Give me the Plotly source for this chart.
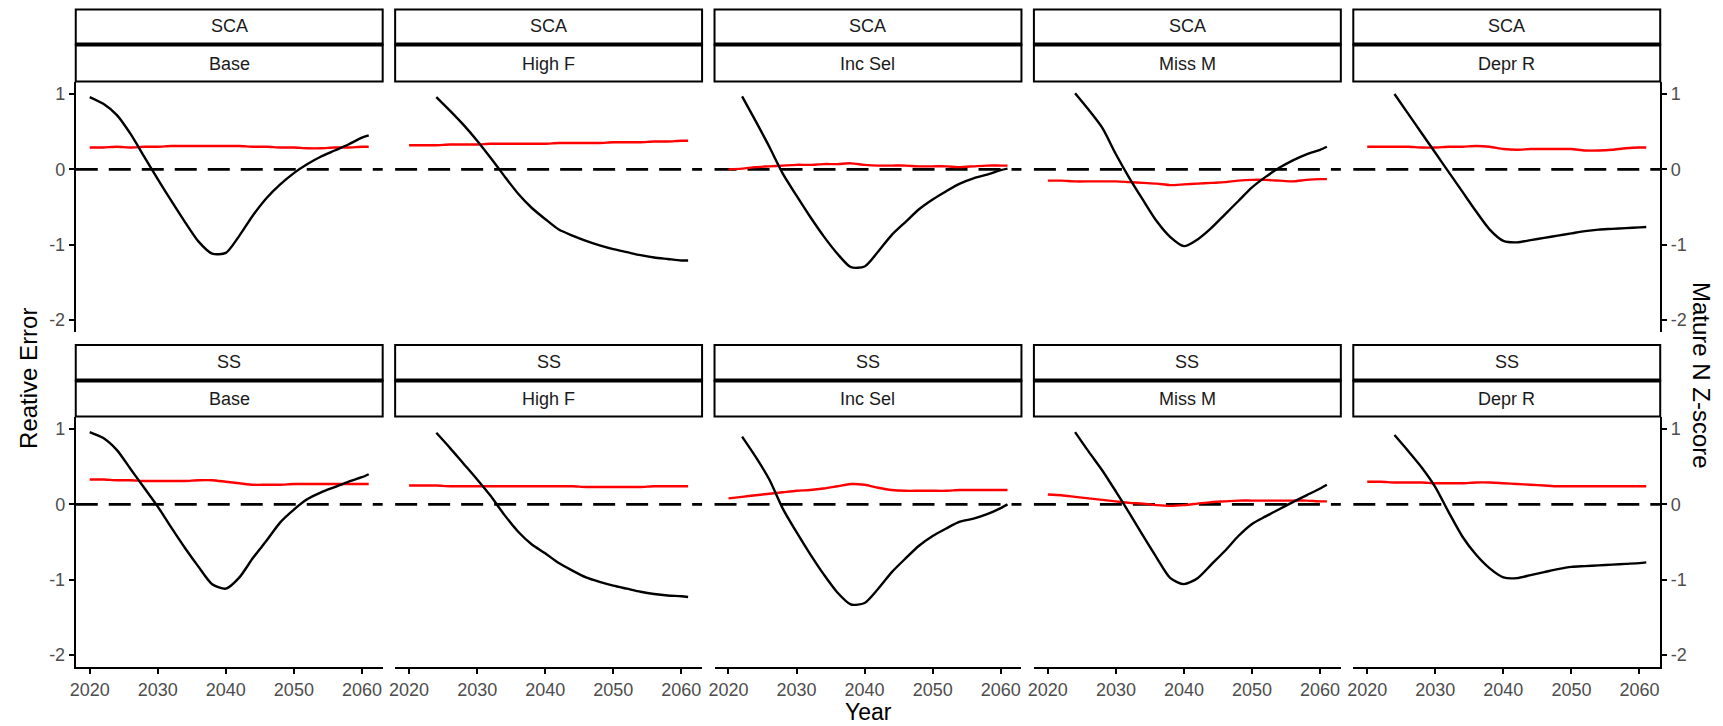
import plotly.graph_objects as go

# ---------------- data ----------------
YEARS = [2020, 2022, 2024, 2026, 2028, 2030, 2032, 2034, 2036, 2038, 2040,
         2042, 2044, 2046, 2048, 2050, 2052, 2054, 2056, 2058, 2060, 2061]

MODELS = ["SCA", "SS"]
SCENARIOS = ["Base", "High F", "Inc Sel", "Miss M", "Depr R"]
X_TICKS = [2020, 2030, 2040, 2050, 2060]
Y_TICKS = [1, 0, -1, -2]
Y_TICK_TEXT = ["1", "0", "-1", "-2"]

# Relative error (black) and Mature N Z-score (red), SCA model
sca_base_err = [0.96, 0.87, 0.72, 0.47, 0.17, -0.13, -0.42, -0.70, -0.96, -1.12, -1.11,
                -0.88, -0.61, -0.38, -0.20, -0.05, 0.07, 0.17, 0.25, 0.33, 0.42, 0.45]
sca_base_z = [0.29, 0.29, 0.30, 0.29, 0.30, 0.30, 0.31, 0.31, 0.31, 0.31, 0.31,
              0.31, 0.30, 0.30, 0.29, 0.29, 0.28, 0.28, 0.29, 0.29, 0.30, 0.30]
sca_highf_err = [None, None, 0.96, 0.78, 0.59, 0.38, 0.15, -0.09, -0.32, -0.51, -0.66,
                 -0.80, -0.88, -0.95, -1.01, -1.06, -1.10, -1.14, -1.17, -1.19, -1.21, -1.21]
sca_highf_z = [0.32, 0.32, 0.32, 0.33, 0.33, 0.33, 0.34, 0.34, 0.34, 0.34, 0.34,
               0.35, 0.35, 0.35, 0.35, 0.36, 0.36, 0.36, 0.37, 0.37, 0.38, 0.38]
sca_incsel_err = [None, 0.97, 0.64, 0.30, -0.06, -0.35, -0.63, -0.89, -1.12, -1.30, -1.29,
                  -1.09, -0.87, -0.70, -0.53, -0.40, -0.29, -0.19, -0.12, -0.07, -0.01, 0.01]
sca_incsel_z = [0.00, 0.01, 0.03, 0.04, 0.05, 0.06, 0.06, 0.07, 0.07, 0.08, 0.06,
                0.05, 0.05, 0.05, 0.04, 0.04, 0.04, 0.03, 0.04, 0.05, 0.05, 0.05]
sca_missm_err = [None, None, 1.01, 0.79, 0.55, 0.20, -0.12, -0.41, -0.69, -0.90, -1.02,
                 -0.93, -0.78, -0.60, -0.42, -0.24, -0.10, 0.02, 0.12, 0.20, 0.26, 0.30]
sca_missm_z = [-0.15, -0.15, -0.16, -0.16, -0.16, -0.16, -0.17, -0.18, -0.19, -0.21, -0.20,
               -0.19, -0.18, -0.17, -0.15, -0.14, -0.14, -0.15, -0.16, -0.14, -0.13, -0.13]
sca_deprr_err = [None, None, 1.00, 0.74, 0.48, 0.22, -0.04, -0.30, -0.56, -0.80, -0.95,
                 -0.97, -0.94, -0.91, -0.88, -0.85, -0.82, -0.80, -0.79, -0.78, -0.77, -0.765]
sca_deprr_z = [0.30, 0.30, 0.30, 0.30, 0.29, 0.29, 0.30, 0.30, 0.31, 0.30, 0.27,
               0.26, 0.27, 0.27, 0.27, 0.27, 0.25, 0.25, 0.26, 0.28, 0.29, 0.29]

# SS model
ss_base_err = [0.96, 0.88, 0.72, 0.47, 0.22, -0.03, -0.31, -0.58, -0.83, -1.06, -1.12,
               -0.97, -0.71, -0.48, -0.24, -0.07, 0.07, 0.16, 0.23, 0.30, 0.36, 0.40]
ss_base_z = [0.33, 0.33, 0.32, 0.32, 0.31, 0.31, 0.31, 0.31, 0.32, 0.32, 0.30,
             0.28, 0.26, 0.26, 0.26, 0.27, 0.27, 0.27, 0.27, 0.27, 0.27, 0.27]
ss_highf_err = [None, None, 0.95, 0.75, 0.54, 0.33, 0.11, -0.14, -0.36, -0.53, -0.65,
                -0.78, -0.88, -0.97, -1.03, -1.08, -1.12, -1.16, -1.19, -1.21, -1.22, -1.23]
ss_highf_z = [0.25, 0.25, 0.25, 0.24, 0.24, 0.24, 0.24, 0.24, 0.24, 0.24, 0.24,
              0.24, 0.24, 0.23, 0.23, 0.23, 0.23, 0.23, 0.24, 0.24, 0.24, 0.24]
ss_incsel_err = [None, 0.90, 0.63, 0.33, -0.06, -0.37, -0.66, -0.93, -1.17, -1.33, -1.31,
                 -1.12, -0.90, -0.72, -0.55, -0.42, -0.32, -0.23, -0.19, -0.13, -0.05, 0.00]
ss_incsel_z = [0.08, 0.10, 0.12, 0.14, 0.16, 0.18, 0.19, 0.21, 0.24, 0.27, 0.26,
               0.22, 0.19, 0.18, 0.18, 0.18, 0.18, 0.19, 0.19, 0.19, 0.19, 0.19]
ss_missm_err = [None, None, 0.96, 0.70, 0.45, 0.17, -0.12, -0.42, -0.71, -0.98, -1.06,
                -0.98, -0.80, -0.62, -0.42, -0.26, -0.16, -0.065, 0.03, 0.12, 0.21, 0.26]
ss_missm_z = [0.13, 0.12, 0.10, 0.08, 0.06, 0.04, 0.02, 0.01, -0.01, -0.02, -0.01,
              0.01, 0.03, 0.04, 0.05, 0.05, 0.05, 0.05, 0.05, 0.05, 0.04, 0.04]
ss_deprr_err = [None, None, 0.92, 0.71, 0.49, 0.23, -0.11, -0.43, -0.67, -0.85, -0.97,
                -0.98, -0.94, -0.90, -0.86, -0.83, -0.82, -0.81, -0.80, -0.79, -0.78, -0.77]
ss_deprr_z = [0.30, 0.30, 0.29, 0.29, 0.29, 0.28, 0.28, 0.28, 0.29, 0.29, 0.28,
              0.27, 0.26, 0.25, 0.24, 0.24, 0.24, 0.24, 0.24, 0.24, 0.24, 0.24]

ERR = [[sca_base_err, sca_highf_err, sca_incsel_err, sca_missm_err, sca_deprr_err],
       [ss_base_err, ss_highf_err, ss_incsel_err, ss_missm_err, ss_deprr_err]]
ZSC = [[sca_base_z, sca_highf_z, sca_incsel_z, sca_missm_z, sca_deprr_z],
       [ss_base_z, ss_highf_z, ss_incsel_z, ss_missm_z, ss_deprr_z]]

# ---------------- layout geometry (pixels) ----------------
W, H = 1723, 726
COL_LEFT0, COL_STEP, COL_W = 70, 320.5, 308
ROW_PLOT = [(82, 332), (417, 667)]
ROW_STRIP = [(9.5, 44.5, 81.5), (345, 380.5, 416.5)]
FONT = "Liberation Sans, Arial, sans-serif"
TICK_COL = "#4D4D4D"


def px_x(p):
    return p / W


def px_y(p):
    return 1 - p / H


fig = go.Figure()
layout = dict(width=W, height=H, autosize=False,
              margin=dict(l=0, r=0, t=0, b=0),
              paper_bgcolor="white", plot_bgcolor="white",
              showlegend=False, font=dict(family=FONT))
shapes = []
annotations = []

for r in range(2):
    for c in range(5):
        n = r * 5 + c + 1
        sfx = "" if n == 1 else str(n)
        xa, ya = "x" + sfx, "y" + sfx
        left = COL_LEFT0 + COL_STEP * c
        right = left + COL_W
        top, bot = ROW_PLOT[r]

        fig.add_trace(go.Scatter(x=YEARS, y=ZSC[r][c], mode="lines",
                                 line=dict(color="#FF0000", width=2.4, shape="spline", smoothing=0.7),
                                 xaxis=xa, yaxis=ya, hoverinfo="skip"))
        fig.add_trace(go.Scatter(x=YEARS, y=ERR[r][c], mode="lines",
                                 line=dict(color="black", width=2.4, shape="spline", smoothing=0.7),
                                 xaxis=xa, yaxis=ya, hoverinfo="skip"))

        bottom_row = (r == 1)
        layout["xaxis" + sfx] = dict(
            domain=[px_x(left), px_x(right)], anchor=ya, range=[2017.95, 2063.05],
            showgrid=False, zeroline=False,
            showline=bottom_row, linecolor="black", linewidth=2,
            ticks="outside" if bottom_row else "", ticklen=5, tickwidth=1.6, tickcolor="black",
            tickvals=X_TICKS, showticklabels=bottom_row,
            tickfont=dict(size=18, color=TICK_COL, family=FONT))
        show_y = c in (0, 4)
        layout["yaxis" + sfx] = dict(
            domain=[px_y(bot), px_y(top)], anchor=xa, range=[-2.16, 1.16],
            side="left" if c == 0 else "right",
            showgrid=False, zeroline=False,
            showline=show_y, linecolor="black", linewidth=2,
            ticks="outside" if show_y else "", ticklen=5, tickwidth=1.6, tickcolor="black",
            tickvals=Y_TICKS, ticktext=Y_TICK_TEXT, showticklabels=show_y,
            tickfont=dict(size=18, color=TICK_COL, family=FONT))

        # zero reference line
        shapes.append(dict(type="line", xref=xa + " domain", yref=ya,
                           x0=0, x1=1, y0=0, y1=0, layer="below",
                           line=dict(color="black", width=2.6, dash="22px,11px")))

        # facet strips
        s_top, s_mid, s_bot = ROW_STRIP[r]
        shapes.append(dict(type="rect", xref="paper", yref="paper",
                           x0=px_x(left), x1=px_x(right), y0=px_y(s_mid), y1=px_y(s_top),
                           line=dict(color="black", width=2), fillcolor="white"))
        shapes.append(dict(type="rect", xref="paper", yref="paper",
                           x0=px_x(left), x1=px_x(right), y0=px_y(s_bot), y1=px_y(s_mid),
                           line=dict(color="black", width=2), fillcolor="white"))
        shapes.append(dict(type="rect", xref="paper", yref="paper",
                           x0=px_x(left), x1=px_x(right),
                           y0=px_y(s_mid + 2), y1=px_y(s_mid - 2),
                           line=dict(width=0), fillcolor="black"))
        annotations.append(dict(text=MODELS[r], xref="paper", yref="paper",
                                x=px_x((left + right) / 2), y=px_y((s_top + s_mid) / 2 - 1),
                                showarrow=False, xanchor="center", yanchor="middle",
                                font=dict(size=18, color="#1A1A1A", family=FONT)))
        annotations.append(dict(text=SCENARIOS[c], xref="paper", yref="paper",
                                x=px_x((left + right) / 2), y=px_y((s_mid + s_bot) / 2 + 0.5),
                                showarrow=False, xanchor="center", yanchor="middle",
                                font=dict(size=18, color="#1A1A1A", family=FONT)))

# axis titles
annotations.append(dict(text="Reative Error", xref="paper", yref="paper",
                        x=px_x(22), y=px_y(378), textangle=-90, showarrow=False,
                        xanchor="center", yanchor="middle",
                        font=dict(size=24, color="black", family=FONT)))
annotations.append(dict(text="Year", xref="paper", yref="paper",
                        x=px_x(866), y=px_y(712), showarrow=False,
                        xanchor="center", yanchor="middle",
                        font=dict(size=23, color="black", family=FONT)))
annotations.append(dict(text="Mature N Z-score", xref="paper", yref="paper",
                        x=px_x(1701), y=px_y(375), textangle=90, showarrow=False,
                        xanchor="center", yanchor="middle",
                        font=dict(size=24, color="black", family=FONT)))

layout["shapes"] = shapes
layout["annotations"] = annotations
fig.update_layout(**layout)

fig.write_html("out.html", config={"displayModeBar": False},
               post_script="document.body.style.margin='0px';")
